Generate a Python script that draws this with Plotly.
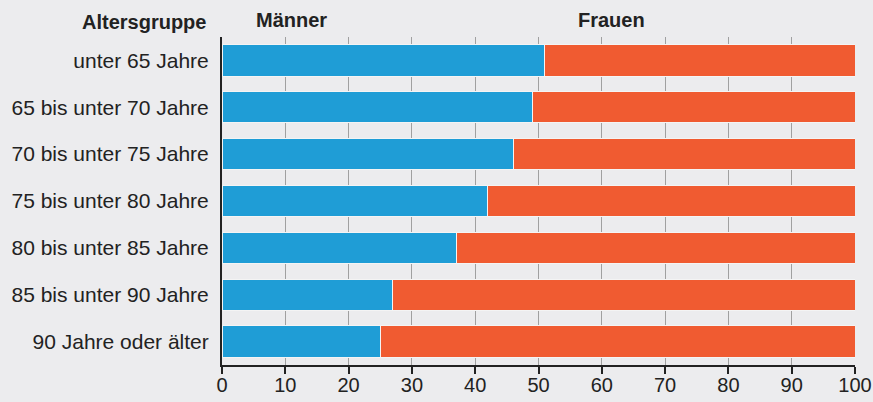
import plotly.graph_objects as go

categories = ["unter 65 Jahre", "65 bis unter 70 Jahre", "70 bis unter 75 Jahre",
              "75 bis unter 80 Jahre", "80 bis unter 85 Jahre", "85 bis unter 90 Jahre",
              "90 Jahre oder älter"]
maenner = [51, 49, 46, 42, 37, 27, 25]
frauen = [100 - v for v in maenner]
x_ticks = [0, 10, 20, 30, 40, 50, 60, 70, 80, 90, 100]

BLUE = "#1f9dd6"
ORANGE = "#f05b31"
BG = "#ececee"
FONT = "Liberation Sans, Arial, sans-serif"
TXT = "#222222"

fig = go.Figure()
fig.add_trace(go.Bar(y=categories, x=maenner, orientation="h", name="Männer",
                     marker=dict(color=BLUE, line=dict(color="#f4f4f4", width=1))))
fig.add_trace(go.Bar(y=categories, x=frauen, orientation="h", name="Frauen",
                     marker=dict(color=ORANGE, line=dict(color="#f4f4f4", width=1))))

PLOT_H = 328
fig.update_layout(
    barmode="stack",
    bargap=0.33,
    width=873, height=402,
    margin=dict(l=222, r=18, t=37, b=37, autoexpand=False),
    paper_bgcolor=BG, plot_bgcolor=BG,
    showlegend=False,
    font=dict(family=FONT, size=20, color=TXT),
    xaxis=dict(range=[0, 100], tickvals=x_ticks, showgrid=True, gridcolor="#a0a0a0",
               gridwidth=1, zeroline=False, showline=True, linecolor=TXT, linewidth=1.5,
               ticks="outside", ticklen=7, tickcolor=TXT, tickwidth=1.5, automargin=False,
               ticklabelstandoff=-6, tickfont=dict(size=20), fixedrange=True),
    yaxis=dict(categoryorder="array", categoryarray=categories[::-1], autorange=False,
               range=[-0.5, 6.5], showgrid=False, zeroline=False, showline=True,
               linecolor=TXT, linewidth=2, ticks="", ticklabelstandoff=7, automargin=False,
               tickfont=dict(size=21)),
)
fig.add_annotation(text="<b>Altersgruppe</b>", xref="paper", yref="paper",
                   x=-14/633, y=1 + 15/PLOT_H, xanchor="right", yanchor="middle",
                   showarrow=False, font=dict(size=20))
fig.add_annotation(text="<b>Männer</b>", xref="x", yref="paper",
                   x=5, y=1 + 17/PLOT_H, xanchor="left", yanchor="middle",
                   showarrow=False, font=dict(size=20))
fig.add_annotation(text="<b>Frauen</b>", xref="x", yref="paper",
                   x=56, y=1 + 17/PLOT_H, xanchor="left", yanchor="middle",
                   showarrow=False, font=dict(size=20))

fig.write_html("out.html", config={"displayModeBar": False},
               post_script="document.body.style.margin='0';document.body.style.overflow='hidden';")
